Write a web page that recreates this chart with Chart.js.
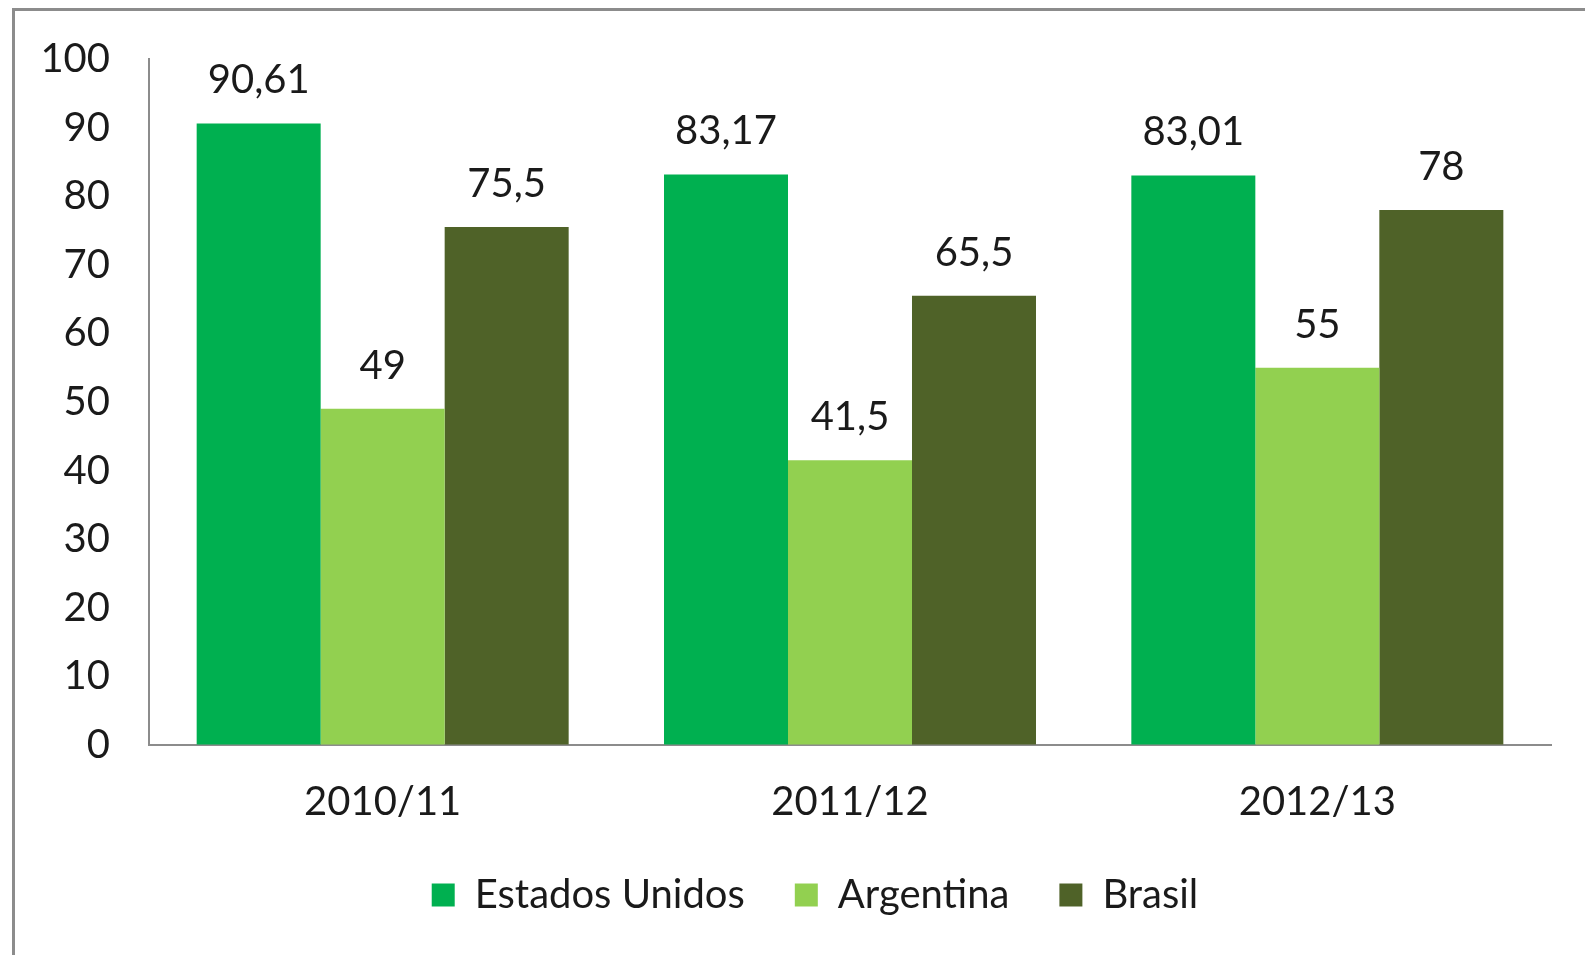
<!DOCTYPE html>
<html>
<head>
<meta charset="utf-8">
<script src="https://cdn.jsdelivr.net/npm/chart.js@4"></script>
<style>
  html, body { margin: 0; padding: 0; background: #fff; overflow: hidden; }
  #frame {
    position: absolute; left: 12px; top: 8px;
    width: 1600px; height: 1000px;
    border-left: 3px solid #8c8c8c; border-top: 3px solid #8c8c8c;
  }
  #frame canvas { position: absolute; left: 0; top: 0; }
</style>
</head>
<body>
<div id="frame"><canvas id="myChart" width="1570" height="944"></canvas></div>
<script>
// Dados do gráfico
const safras = ['2010/11', '2011/12', '2012/13'];
const estadosUnidos = [90.61, 83.17, 83.01];
const argentina = [49, 41.5, 55];
const brasil = [75.5, 65.5, 78];
const yTicks = [0, 10, 20, 30, 40, 50, 60, 70, 80, 90, 100];

const fonte = { family: 'Lato, "Open Sans", sans-serif', size: 40 };
const corTexto = '#1a1a1a';

// escreve o valor em cima de cada barra
const rotulos = {
  id: 'rotulos',
  afterDatasetsDraw(chart) {
    const ctx = chart.ctx;
    ctx.save();
    ctx.font = fonte.size + 'px ' + fonte.family;
    ctx.fillStyle = corTexto;
    ctx.textAlign = 'center';
    ctx.textBaseline = 'middle';
    chart.data.datasets.forEach((ds, i) => {
      chart.getDatasetMeta(i).data.forEach((bar, j) => {
        const txt = String(ds.data[j]).replace('.', ',');
        ctx.fillText(txt, bar.x, bar.y - 43);
      });
    });
    ctx.restore();
  }
};

// a legenda do original fica um pouco à direita do centro
const moveLegenda = {
  id: 'moveLegenda',
  afterLayout(chart) {
    if (chart.legend) {
      chart.legend.left += 32;
      chart.legend.right += 32;
    }
  }
};

const ctx = document.getElementById('myChart').getContext('2d');
const myChart = new Chart(ctx, {
  type: 'bar',
  data: {
    labels: safras,
    datasets: [
      { label: 'Estados Unidos', data: estadosUnidos, backgroundColor: '#00B050' },
      { label: 'Argentina', data: argentina, backgroundColor: '#92D050' },
      { label: 'Brasil', data: brasil, backgroundColor: '#4F6228' }
    ]
  },
  options: {
    responsive: false,
    animation: false,
    layout: { padding: { top: 48, right: 34, left: 0, bottom: 30 } },
    datasets: { bar: { categoryPercentage: 0.796, barPercentage: 1 } },
    scales: {
      x: {
        grid: { display: false, drawTicks: false },
        border: { display: true, color: '#8c8c8c', width: 2 },
        ticks: { font: fonte, color: corTexto, padding: 33 },
        afterFit(scale) { scale.height = 80; }
      },
      y: {
        min: 0,
        max: 100,
        afterBuildTicks(scale) { scale.ticks = yTicks.map(v => ({ value: v })); },
        // marca de tick transparente só para afastar os rótulos do eixo
        grid: { display: true, drawOnChartArea: false, drawTicks: true, tickLength: 39, color: 'rgba(0,0,0,0)' },
        border: { display: true, color: '#8c8c8c', width: 2 },
        ticks: { font: fonte, color: corTexto, padding: 0 },
        afterFit(scale) { scale.width = 134; }
      }
    },
    plugins: {
      legend: {
        position: 'bottom',
        labels: {
          font: fonte,
          color: corTexto,
          boxWidth: 23,
          boxHeight: 23,
          padding: 50
        }
      },
      tooltip: { enabled: false }
    }
  },
  plugins: [rotulos, moveLegenda]
});
</script>
</body>
</html>
